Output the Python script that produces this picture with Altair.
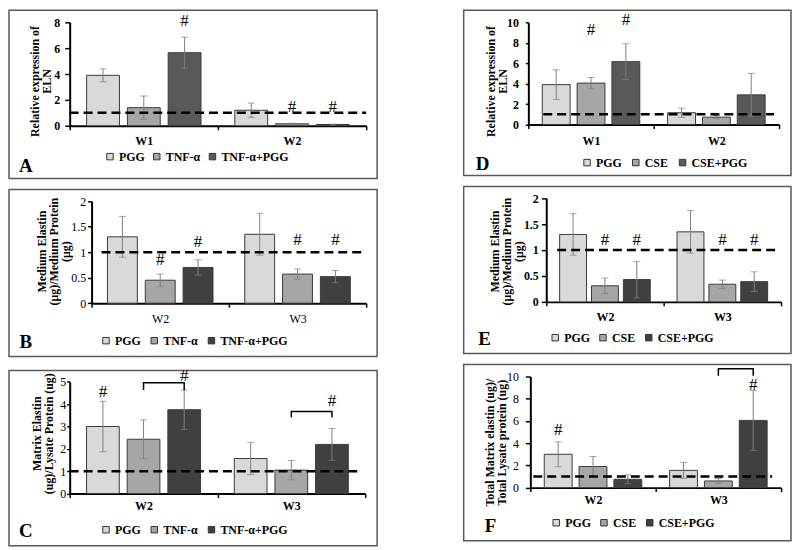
import altair as alt
import pandas as pd

FONT = "Liberation Serif"

# ---------------- data ----------------
TNF_GROUPS = ["PGG", "TNF-α", "TNF-α+PGG"]
CSE_GROUPS = ["PGG", "CSE", "CSE+PGG"]

A_WEEKS = ["W1", "W2"]
A_MEAN = [[3.9, 1.4, 5.65], [1.2, 0.15, 0.1]]
A_ERR = [[0.5, 0.9, 1.2], [0.55, 0.05, 0.03]]
A_HASH = [["W1", "TNF-α+PGG", 8.1], ["W2", "TNF-α", 1.46], ["W2", "TNF-α+PGG", 1.46]]
A_BRACKETS = []
A_YTICKS = [0, 2, 4, 6, 8]
A_YTITLE = ["Relative expression of", "ELN"]

B_WEEKS = ["W2", "W3"]
B_MEAN = [[1.3, 0.45, 0.7], [1.35, 0.57, 0.52]]
B_ERR = [[0.4, 0.12, 0.15], [0.41, 0.1, 0.12]]
B_HASH = [["W2", "TNF-α", 0.84], ["W2", "TNF-α+PGG", 1.19],
          ["W3", "TNF-α", 1.24], ["W3", "TNF-α+PGG", 1.24]]
B_BRACKETS = []
B_YTICKS = [0, 0.5, 1, 1.5, 2]
B_YTITLE = ["Medium Elastin", "(μg)/Medium Protein", "(μg)"]

C_WEEKS = ["W2", "W3"]
C_MEAN = [[3.0, 2.43, 3.75], [1.57, 1.05, 2.2]]
C_ERR = [[1.13, 0.87, 0.88], [0.72, 0.43, 0.71]]
C_HASH = [["W2", "PGG", 4.53], ["W2", "TNF-α+PGG", 5.24], ["W3", "TNF-α+PGG", 4.13]]
C_BRACKETS = [["W2", "TNF-α", "TNF-α+PGG", 4.63, 4.96],
              ["W3", "TNF-α", "TNF-α+PGG", 3.41, 3.67]]
C_YTICKS = [0, 1, 2, 3, 4, 5]
C_YTITLE = ["Matrix Elastin", "(ug)/Lysate Protein (ug)"]

D_WEEKS = ["W1", "W2"]
D_MEAN = [[3.9, 4.05, 6.15], [1.15, 0.72, 2.9]]
D_ERR = [[1.45, 0.55, 1.75], [0.45, 0.15, 2.1]]
D_HASH = [["W1", "CSE", 9.2], ["W1", "CSE+PGG", 10.2]]
D_BRACKETS = []
D_YTICKS = [0, 2, 4, 6, 8, 10]
D_YTITLE = ["Relative expression of", "ELN"]

E_WEEKS = ["W2", "W3"]
E_MEAN = [[1.3, 0.31, 0.43], [1.35, 0.34, 0.39]]
E_ERR = [[0.4, 0.15, 0.35], [0.41, 0.08, 0.19]]
E_HASH = [["W2", "CSE", 1.19], ["W2", "CSE+PGG", 1.19],
          ["W3", "CSE", 1.19], ["W3", "CSE+PGG", 1.19]]
E_BRACKETS = []
E_YTICKS = [0, 0.5, 1, 1.5, 2]
E_YTITLE = ["Medium Elastin", "(μg)/Medium Protein", "(μg)"]

F_WEEKS = ["W2", "W3"]
F_MEAN = [[3.0, 1.9, 0.75], [1.55, 0.6, 6.05]]
F_ERR = [[1.12, 0.9, 0.4], [0.72, 0.22, 2.7]]
F_HASH = [["W2", "PGG", 5.17], ["W3", "CSE+PGG", 9.2]]
F_BRACKETS = [["W3", "CSE", "CSE+PGG", 10.06, 10.69]]
F_YTICKS = [0, 2, 4, 6, 8, 10]
F_YTITLE = ["Total Matrix elastin (ug)/", "Total Lysate protein (ug)"]

# ---------------- layout / style ----------------
LAYOUT = {
    "A": dict(w=370, h=169, x0=61, x1=359, y0=116, y1=12, pi=0.195, po=0.415,
              ytick=5, ylpad=5, ybold=True, xbold=True, tx=-35, ty=71, xlpad=5.5,
              dash=(61, 359), legx=95.5, legy=141, colpad=6, letter=(17, 156),
              dark="#595959"),
    "B": dict(w=370, h=168, x0=83, x1=359, y0=114.3, y1=11.7, pi=0.21, po=0.42,
              ytick=4, ylpad=2, ybold=False, xbold=False, tx=-50.5, ty=62, xlpad=6.2,
              dash=(93, 358), legx=91.5, legy=146, colpad=7.5, letter=(17, 153),
              dark="#404040"),
    "C": dict(w=370, h=176, x0=61, x1=358, y0=123.7, y1=11.3, pi=0.195, po=0.415,
              ytick=3, ylpad=1, ybold=False, xbold=True, tx=-33, ty=63, xlpad=2.8,
              dash=(61, 355), legx=91.5, legy=154, colpad=7.5, letter=(17, 161),
              dark="#404040"),
    "D": dict(w=329, h=166, x0=65, x1=317, y0=114.7, y1=12, pi=0.2, po=0.4,
              ytick=3, ylpad=7, ybold=True, xbold=True, tx=-38, ty=71, xlpad=6.8,
              dash=(80, 312), legx=118, legy=147, colpad=8, letter=(19, 154),
              dark="#595959"),
    "E": dict(w=329, h=168, x0=83, x1=319, y0=116, y1=11.7, pi=0.156, po=0.42,
              ytick=5, ylpad=3, ybold=True, xbold=True, tx=-52, ty=65, xlpad=5.5,
              dash=(94, 317), legx=86, legy=146, colpad=7, letter=(21, 153),
              dark="#404040"),
    "F": dict(w=329, h=177, x0=67, x1=319, y0=123.7, y1=12, pi=0.2, po=0.4,
              ytick=5, ylpad=7, ybold=False, xbold=True, tx=-41, ty=78, xlpad=2.8,
              dash=(70, 310), legx=87, legy=153, colpad=7, letter=(27, 162),
              dark="#404040"),
}

LIGHT = "#d9d9d9"
MID = "#a6a6a6"
ERR_COLOR = "#7f7f7f"


def build(key, weeks, groups, mean, err, hashes, brackets, yticks, ytitle):
    L = LAYOUT[key]
    rows = []
    for wi, w in enumerate(weeks):
        for gi, g in enumerate(groups):
            m = mean[wi][gi]
            e = err[wi][gi]
            rows.append({"week": w, "group": g, "mean": m, "lo": m - e, "hi": m + e})
    df = pd.DataFrame(rows)

    xs = alt.Scale(domain=weeks, range=[L["x0"], L["x1"]], paddingInner=0, paddingOuter=0)
    xos = alt.Scale(domain=groups, paddingInner=L["pi"], paddingOuter=L["po"])
    ys = alt.Scale(domain=[0, yticks[-1]], range=[L["y0"], L["y1"]], nice=False)
    cs = alt.Scale(domain=groups, range=[LIGHT, MID, L["dark"]])

    xax = alt.Axis(orient="bottom", offset=-(L["h"] - L["y0"]), tickBand="extent",
                   tickSize=4, tickColor="black", tickWidth=1.5, domainColor="black",
                   domainWidth=2, labelAngle=0, labelPadding=L["xlpad"], labelFont=FONT,
                   labelFontSize=12, labelColor="black",
                   labelFontWeight="bold" if L["xbold"] else "normal",
                   grid=False, title=None)
    yax = alt.Axis(values=yticks, format="~f", offset=-L["x0"], tickSize=L["ytick"],
                   tickColor="black", tickWidth=1.5, domainColor="black", domainWidth=2,
                   labelPadding=L["ylpad"], labelFont=FONT, labelFontSize=12,
                   labelColor="black",
                   labelFontWeight="bold" if L["ybold"] else "normal",
                   grid=False, title=ytitle, titleFont=FONT, titleFontSize=12,
                   titleFontWeight="bold", titleColor="black", titleAngle=270,
                   titleAlign="center", titleBaseline="middle", titleLineHeight=12,
                   titleX=L["tx"], titleY=L["ty"])

    def X():
        return alt.X("week:N", scale=xs, axis=xax)

    def XO():
        return alt.XOffset("group:N", scale=xos)

    def Y(f):
        return alt.Y(f, scale=ys, axis=yax)

    leg = alt.Legend(title=None, orient="none", legendX=L["legx"], legendY=L["legy"],
                     direction="horizontal", columns=3, symbolType="square",
                     symbolSize=42, symbolStrokeColor="#333333", symbolStrokeWidth=1,
                     labelFont=FONT, labelFontSize=12, labelFontWeight="bold",
                     labelColor="black", labelOffset=3, columnPadding=L["colpad"],
                     padding=0)

    base = alt.Chart(df)
    bar = base.mark_bar(stroke="#3a3a3a", strokeWidth=1).encode(
        x=X(), xOffset=XO(), y=Y("mean:Q"),
        color=alt.Color("group:N", scale=cs, legend=leg))
    err_rule = base.mark_rule(color=ERR_COLOR, strokeWidth=1).encode(
        x=X(), xOffset=XO(), y=Y("lo:Q"), y2="hi:Q")
    cap_hi = base.mark_tick(color=ERR_COLOR, size=7, thickness=1).encode(
        x=X(), xOffset=XO(), y=Y("hi:Q"))
    cap_lo = base.mark_tick(color=ERR_COLOR, size=7, thickness=1).encode(
        x=X(), xOffset=XO(), y=Y("lo:Q"))
    dash = alt.Chart(pd.DataFrame({"ref": [1.0]})).mark_rule(
        color="black", strokeWidth=2.5, strokeDash=[9, 5]).encode(
        y=Y("ref:Q"), x=alt.value(L["dash"][0]), x2=alt.value(L["dash"][1]))

    layers = [bar, err_rule, cap_hi, cap_lo, dash]

    if hashes:
        hdf = pd.DataFrame(hashes, columns=["week", "group", "hy"])
        layers.append(alt.Chart(hdf).mark_text(
            text="#", font=FONT, fontSize=17, color="black", baseline="middle",
            align="center").encode(x=X(), xOffset=XO(), y=Y("hy:Q")))

    if brackets:
        pts = []
        for bi, (w, g1, g2, lo, hi) in enumerate(brackets):
            pts += [
                {"bid": bi, "seq": 0, "week": w, "group": g1, "by": lo},
                {"bid": bi, "seq": 1, "week": w, "group": g1, "by": hi},
                {"bid": bi, "seq": 2, "week": w, "group": g2, "by": hi},
                {"bid": bi, "seq": 3, "week": w, "group": g2, "by": lo},
            ]
        layers.append(alt.Chart(pd.DataFrame(pts)).mark_line(
            color="black", strokeWidth=1.5).encode(
            x=X(), xOffset=XO(), y=Y("by:Q"), order="seq:Q", detail="bid:N"))

    letter = alt.Chart(pd.DataFrame({"t": [key]})).mark_text(
        font=FONT, fontSize=19, fontWeight="bold", color="black",
        align="center", baseline="middle").encode(
        x=alt.value(L["letter"][0]), y=alt.value(L["letter"][1]), text="t:N")
    layers.append(letter)

    return alt.layer(*layers).properties(width=L["w"], height=L["h"])


pA = build("A", A_WEEKS, TNF_GROUPS, A_MEAN, A_ERR, A_HASH, A_BRACKETS, A_YTICKS, A_YTITLE)
pB = build("B", B_WEEKS, TNF_GROUPS, B_MEAN, B_ERR, B_HASH, B_BRACKETS, B_YTICKS, B_YTITLE)
pC = build("C", C_WEEKS, TNF_GROUPS, C_MEAN, C_ERR, C_HASH, C_BRACKETS, C_YTICKS, C_YTITLE)
pD = build("D", D_WEEKS, CSE_GROUPS, D_MEAN, D_ERR, D_HASH, D_BRACKETS, D_YTICKS, D_YTITLE)
pE = build("E", E_WEEKS, CSE_GROUPS, E_MEAN, E_ERR, E_HASH, E_BRACKETS, E_YTICKS, E_YTITLE)
pF = build("F", F_WEEKS, CSE_GROUPS, F_MEAN, F_ERR, F_HASH, F_BRACKETS, F_YTICKS, F_YTITLE)

left = alt.vconcat(pA, pB, pC, spacing=9).resolve_scale(
    color="independent", xOffset="independent").resolve_legend(color="independent")
right = alt.vconcat(pD, pE, pF, spacing=9).resolve_scale(
    color="independent", xOffset="independent").resolve_legend(color="independent")

chart = alt.hconcat(left, right, spacing=85).resolve_scale(
    color="independent", xOffset="independent").resolve_legend(
    color="independent").configure_view(
    stroke="#595959", strokeWidth=1.5).properties(
    padding={"left": 0, "top": 0, "right": 0, "bottom": 0})

chart.save("out.html", embed_options={"renderer": "svg", "actions": False})
